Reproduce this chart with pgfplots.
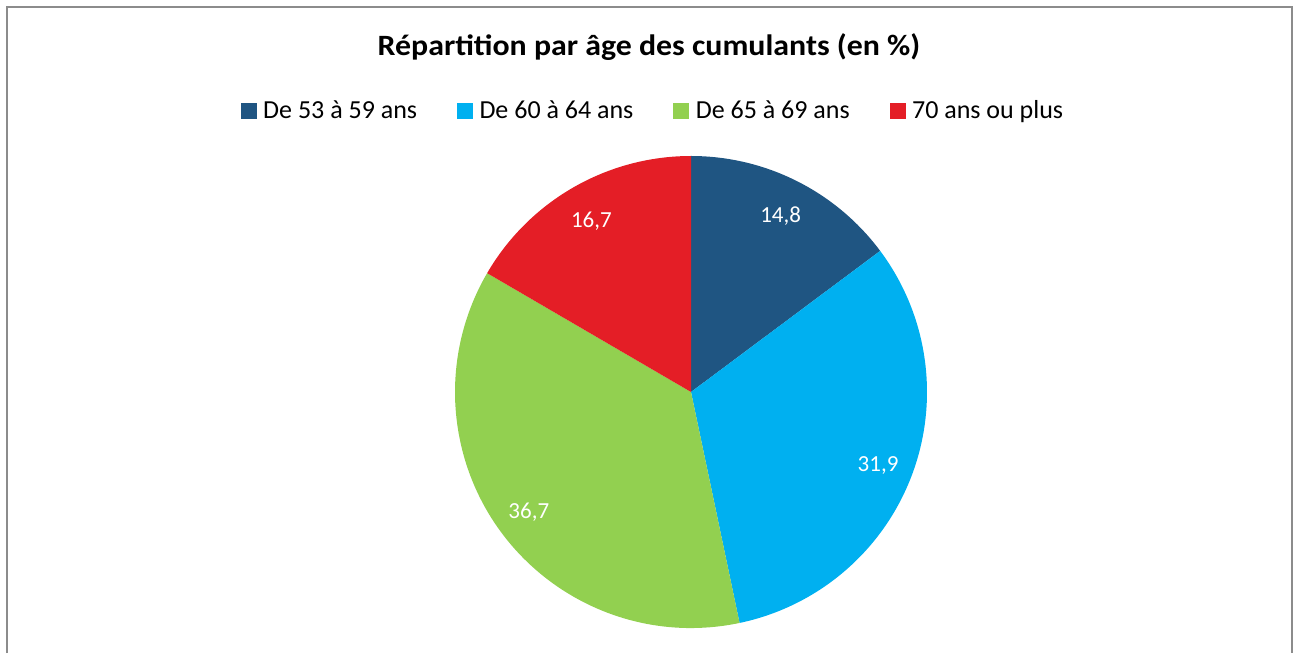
\documentclass[border=0pt]{standalone}
\usepackage{pgfplots}
\usepackage{pgfplotstable}
\pgfplotsset{compat=1.18}
\usetikzlibrary{calc}
\usepackage{fontspec}
\setmainfont{Carlito}
\definecolor{c1}{HTML}{1F5582}
\definecolor{c2}{HTML}{00B0F0}
\definecolor{c3}{HTML}{92D050}
\definecolor{c4}{HTML}{E41E26}
\definecolor{frame}{HTML}{8C8C8C}
\pgfplotstableread{
value
14.8
31.9
36.7
16.7
}\piedata
\begin{document}
\begin{tikzpicture}
\pgfplotstablegetelem{0}{value}\of\piedata \let\va\pgfplotsretval
\pgfplotstablegetelem{1}{value}\of\piedata \let\vb\pgfplotsretval
\pgfplotstablegetelem{2}{value}\of\piedata \let\vc\pgfplotsretval
\pgfplotstablegetelem{3}{value}\of\piedata \let\vd\pgfplotsretval
\pgfmathsetmacro\aA{90-3.6*\va}
\pgfmathsetmacro\aB{\aA-3.6*\vb}
\pgfmathsetmacro\aC{\aB-3.6*\vc}
\pgfmathsetmacro\mA{(90+\aA)/2}
\pgfmathsetmacro\mB{(\aA+\aB)/2}
\pgfmathsetmacro\mC{(\aB+\aC)/2}
\pgfmathsetmacro\mD{(\aC-270)/2}
\def\cx{691}\def\cy{261}\def\R{236}\def\L{200}
\begin{axis}[
  scale only axis, width=1298pt, height=653pt,
  xmin=0, xmax=1298, ymin=0, ymax=653,
  hide axis, clip=false,
  legend columns=4,
  legend style={draw=none, fill=none, at={(axis cs:652,543)}, anchor=center,
    font=\fontsize{26}{30}\selectfont, nodes={inner sep=0pt},
    /tikz/every even column/.append style={column sep=40pt},
    /tikz/every odd column/.append style={column sep=7pt}},
]
\path (axis cs:0,0) rectangle (axis cs:1298,653);
\draw[frame, line width=2pt] (axis cs:7,0) -- (axis cs:7,646) -- (axis cs:1292,646) -- (axis cs:1292,0);
\addlegendimage{legend image code/.code={\fill[c1] (0pt,-8pt) rectangle (15pt,7pt);}}
\addlegendentry{De 53 à 59 ans}
\addlegendimage{legend image code/.code={\fill[c2] (0pt,-8pt) rectangle (15pt,7pt);}}
\addlegendentry{De 60 à 64 ans}
\addlegendimage{legend image code/.code={\fill[c3] (0pt,-8pt) rectangle (15pt,7pt);}}
\addlegendentry{De 65 à 69 ans}
\addlegendimage{legend image code/.code={\fill[c4] (0pt,-8pt) rectangle (15pt,7pt);}}
\addlegendentry{70 ans ou plus}
\fill[c1] (axis cs:\cx,\cy) -- +(90:\R pt) arc[start angle=90, end angle=\aA, radius=\R pt] -- cycle;
\fill[c2] (axis cs:\cx,\cy) -- +(\aA:\R pt) arc[start angle=\aA, end angle=\aB, radius=\R pt] -- cycle;
\fill[c3] (axis cs:\cx,\cy) -- +(\aB:\R pt) arc[start angle=\aB, end angle=\aC, radius=\R pt] -- cycle;
\fill[c4] (axis cs:\cx,\cy) -- +(\aC:\R pt) arc[start angle=\aC, end angle=-270, radius=\R pt] -- cycle;
\tikzset{lab/.style={text=white, font=\fontsize{23}{27}\selectfont, yshift=-3pt}}
\pgfkeys{/pgf/number format/.cd, use comma, fixed, precision=1, fixed zerofill, assume math mode=true}
\node[lab] at ($(axis cs:\cx,\cy)+(\mA:\L pt)$) {\pgfmathprintnumber{\va}};
\node[lab] at ($(axis cs:\cx,\cy)+(\mB:\L pt)$) {\pgfmathprintnumber{\vb}};
\node[lab] at ($(axis cs:\cx,\cy)+(\mC:\L pt)$) {\pgfmathprintnumber{\vc}};
\node[lab] at ($(axis cs:\cx,\cy)+(\mD:\L pt)$) {\pgfmathprintnumber{\vd}};
\node[font=\bfseries\fontsize{29.5}{34}\selectfont, anchor=base, xscale=1.08] at (axis cs:649,597) {Répartition par âge des cumulants (en \%)};
\end{axis}
\end{tikzpicture}
\end{document}
